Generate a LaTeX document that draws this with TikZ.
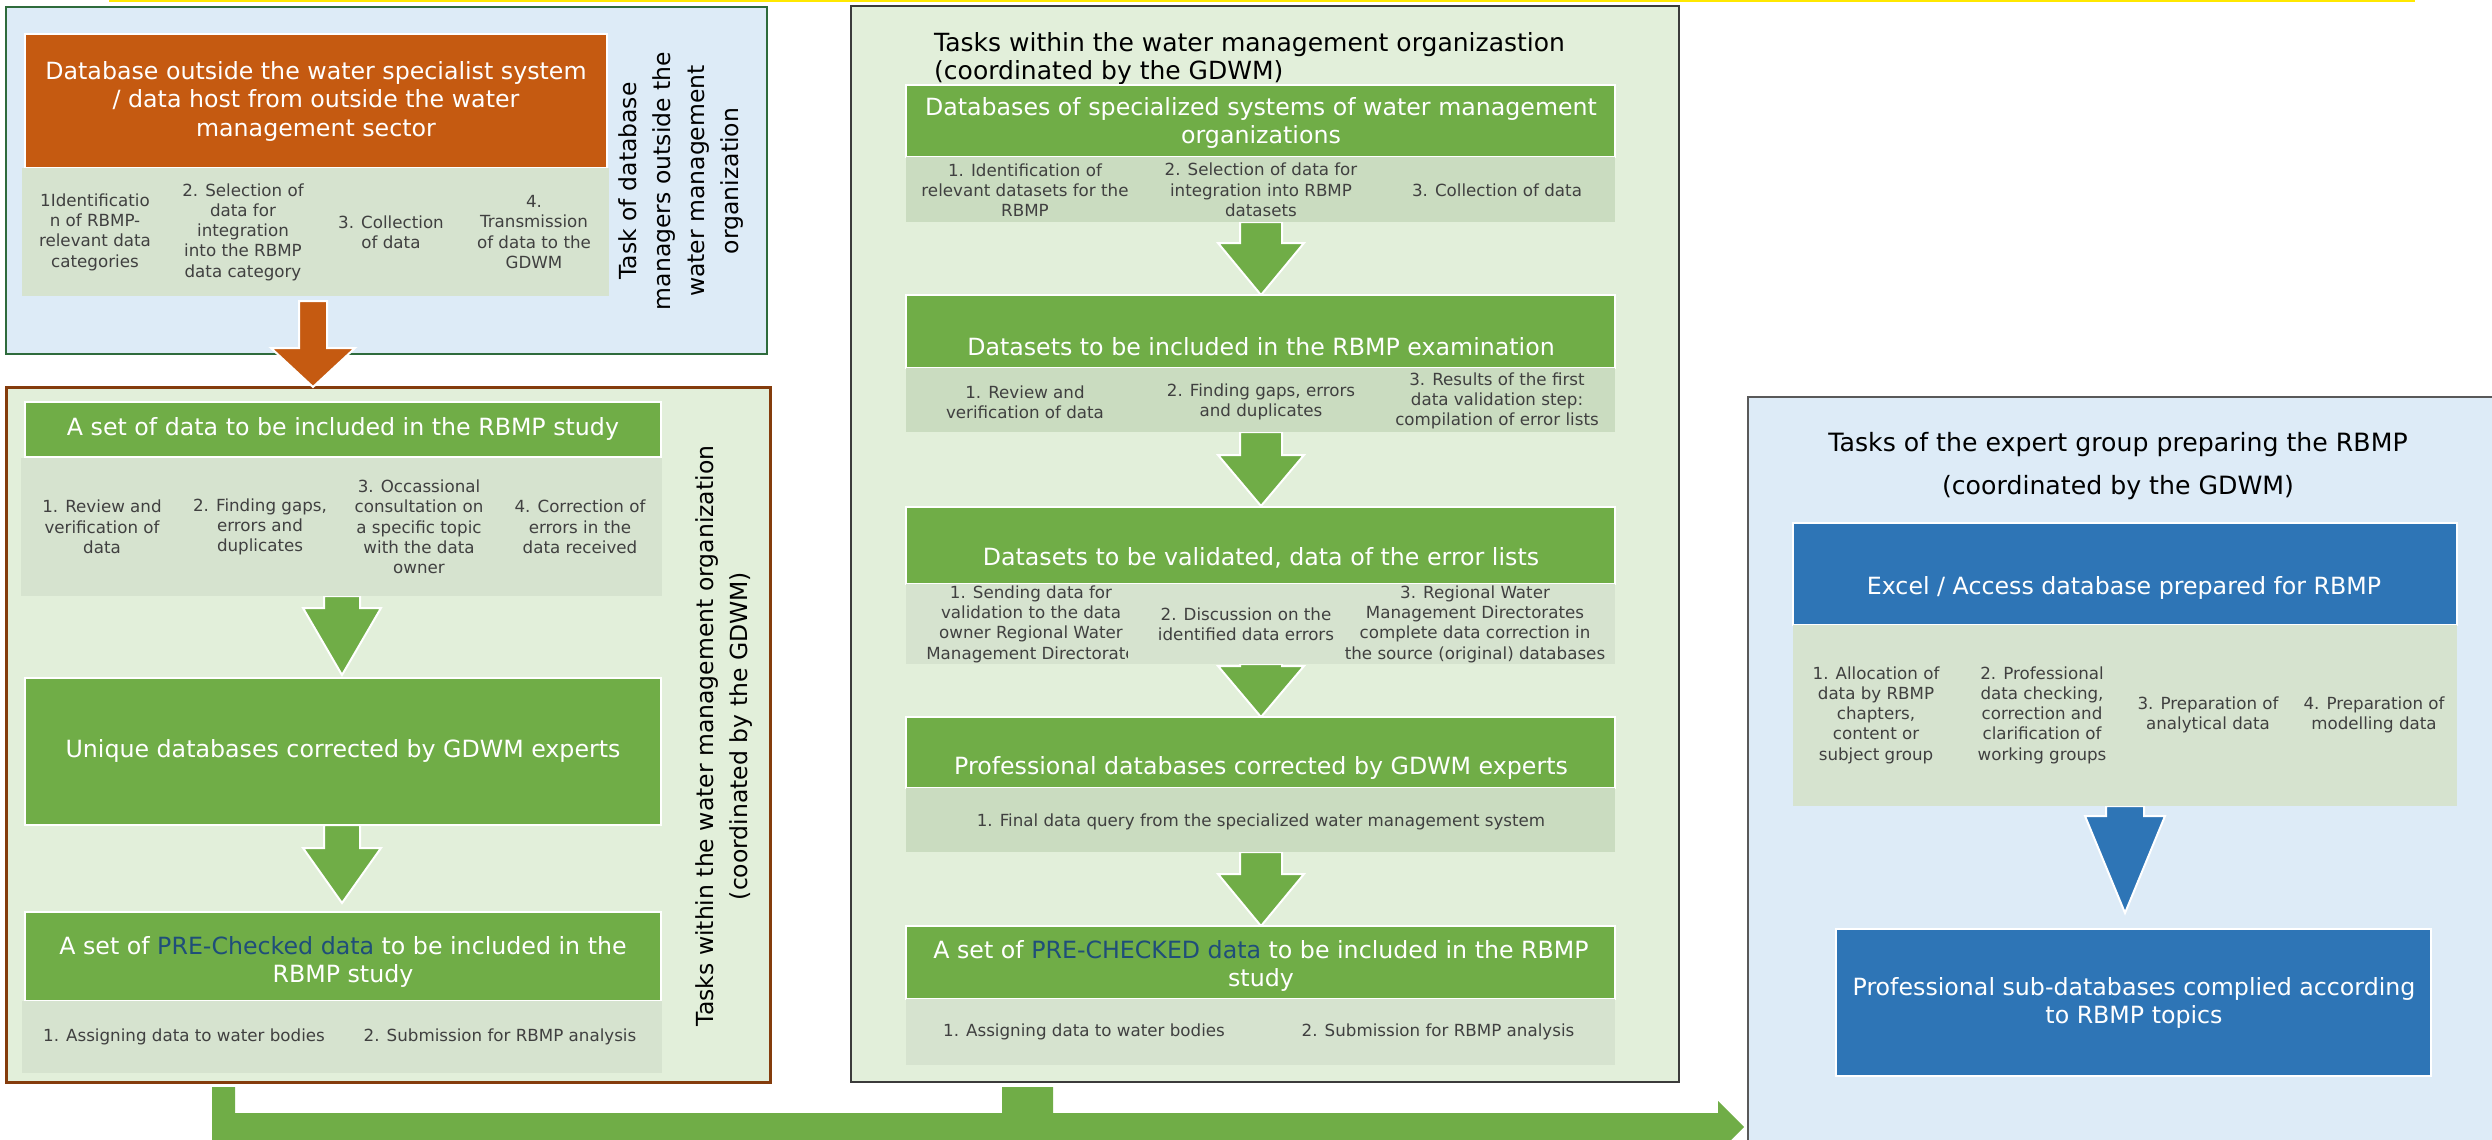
\documentclass[tikz,border=0pt]{standalone}
\usepackage{fontspec}
\setmainfont{DejaVu Sans}
\usetikzlibrary{calc}
\definecolor{lblue}{HTML}{DDEBF7}
\definecolor{lgreen}{HTML}{E2EFDA}
\definecolor{ggreen}{HTML}{70AD47}
\definecolor{orng}{HTML}{C55A11}
\definecolor{bblue}{HTML}{2E75B6}
\definecolor{cellA}{HTML}{D6E3CF}
\definecolor{cellB}{HTML}{CADCC0}
\definecolor{dkgreen}{HTML}{2E6B3C}
\definecolor{brwn}{HTML}{843C0C}
\definecolor{dgray}{HTML}{3B3B3B}
\definecolor{mgray}{HTML}{595959}
\definecolor{ctext}{HTML}{404040}
\definecolor{dblue}{HTML}{1F4E79}
\definecolor{yel}{HTML}{FFE800}
\pgfdeclarelayer{back}\pgfdeclarelayer{mid}\pgfsetlayers{back,mid,main}
\newcommand\fhead{\fontsize{23.7pt}{28.5pt}\selectfont}
\newcommand\fcell{\fontsize{16.7pt}{20.3pt}\selectfont}
\newcommand\ftitle{\fontsize{25pt}{28pt}\selectfont}
\newcommand\ftitleB{\fontsize{25.2pt}{43pt}\selectfont}
\newcommand\frot{\fontsize{23.5pt}{34pt}\selectfont}
\newcommand\bx[6]{\node[#1, minimum width={(#5-#3)*1pt}, minimum height={(#6-#4)*1pt}] (#2) at ({(#3+#5)/2},{(#4+#6)/2}) {};}
% style, from, to, x, shaft half, head half, head length, start gap, end gap
\newcommand\fatarrow[9]{%
  \path[#1] let \p1=(#2.south), \p2=(#3.north) in
    ({(#4-#5)*1pt},{\y1-#8*1pt}) -- ({(#4+#5)*1pt},{\y1-#8*1pt})
    -- ({(#4+#5)*1pt},{\y2+(#9+#7)*1pt}) -- ({(#4+#6)*1pt},{\y2+(#9+#7)*1pt})
    -- ({#4*1pt},{\y2+#9*1pt})
    -- ({(#4-#6)*1pt},{\y2+(#9+#7)*1pt}) -- ({(#4-#5)*1pt},{\y2+(#9+#7)*1pt}) -- cycle;}
\tikzset{
  bxs/.style={rectangle, inner sep=0pt, outer sep=0pt},
  panelA/.style={bxs, fill=lblue, draw=dkgreen, line width=2.5pt},
  panelB/.style={bxs, fill=lgreen, draw=brwn, line width=3pt},
  panelC/.style={bxs, fill=lgreen, draw=dgray, line width=2pt},
  panelD/.style={bxs, fill=lblue, draw=mgray, line width=2pt},
  hdrO/.style={bxs, fill=orng, draw=white, line width=2pt},
  hdrG/.style={bxs, fill=ggreen, draw=white, line width=2.5pt},
  hdrB/.style={bxs, fill=bblue, draw=white, line width=2.5pt},
  cellL/.style={bxs, fill=cellA},
  cellD/.style={bxs, fill=cellB},
  htxt/.style={inner sep=0pt, align=center, text=white, font=\fhead},
  ctxt/.style={inner sep=0pt, align=center, text=ctext, font=\fcell},
  ttxt/.style={inner sep=0pt, text=black, font=\ftitle},
  rtxt/.style={inner sep=0pt, align=center, text=black, font=\frot, rotate=90},
  arrO/.style={fill=orng, draw=white, line width=2pt},
  arrG/.style={fill=ggreen, draw=white, line width=2pt},
  arrB/.style={fill=bblue, draw=white, line width=2pt},
  yline/.style={draw=yel, line width=3pt}
}
\begin{document}
\begin{tikzpicture}[x=1pt,y=-1pt]
\useasboundingbox (0,0) rectangle (2492,1140);
\begin{pgfonlayer}{back}
\bx{panelA}{box1}{6}{7}{767}{354}
\bx{panelB}{box2}{6}{387}{770}{1082}
\bx{panelC}{box3}{851}{6}{1679}{1082}
\bx{panelD}{box4}{1748}{397}{2530}{1170}
\draw[yline] (109,1) -- (2415,1);
\end{pgfonlayer}

% ---------- Box 1 ----------
\bx{hdrO}{h1}{25}{34}{607}{168}
\node[htxt] (h1t) at (316,101) {Database outside the water specialist system\\/ data host from outside the water\\management sector};
\bx{cellL}{c11}{22}{168}{170}{296}
\node[ctxt] (c11t) at (95,232) {1Identificatio\\n of RBMP-\\relevant data\\categories};
\bx{cellL}{c12}{170}{168}{317}{296}
\node[ctxt] (c12t) at (243,232) {2. Selection of\\data for\\integration\\into the RBMP\\data category};
\bx{cellL}{c13}{317}{168}{464}{296}
\node[ctxt] (c13t) at (391,232) {3. Collection\\of data};
\bx{cellL}{c14}{464}{168}{609}{296}
\node[ctxt] (c14t) at (534,232) {4.\\Transmission\\of data to the\\GDWM};
\node[rtxt] (lab1) at (681,181) {Task of database\\managers outside the\\water management\\organization};

% ---------- Box 2 ----------
\bx{hdrG}{h2}{25}{402}{661}{457}
\node[htxt] (h2t) at (343,429) {A set of data to be included in the RBMP study};
\bx{cellL}{c21}{21}{458}{184}{596}
\node[ctxt] (c21t) at (102,527) {1. Review and\\verification of\\data};
\bx{cellL}{c22}{184}{458}{342}{596}
\node[ctxt] (c22t) at (260,527) {2. Finding gaps,\\errors and\\duplicates};
\bx{cellL}{c23}{342}{458}{500}{596}
\node[ctxt] (c23t) at (419,527) {3. Occassional\\consultation on\\a specific topic\\with the data\\owner};
\bx{cellL}{c24}{500}{458}{662}{596}
\node[ctxt] (c24t) at (580,527) {4. Correction of\\errors in the\\data received};
\bx{hdrG}{h3}{25}{678}{661}{825}
\node[htxt] (h3t) at (343,751) {Unique databases corrected by GDWM experts};
\bx{hdrG}{h4}{25}{912}{661}{1001}
\node[htxt] (h4t) at (343,962) {A set of \textcolor{dblue}{PRE-Checked data} to be included in the\\RBMP study};
\bx{cellL}{c41}{22}{1001}{342}{1073}
\node[ctxt] (c41t) at (184,1037) {1. Assigning data to water bodies};
\bx{cellL}{c42}{342}{1001}{662}{1073}
\node[ctxt] (c42t) at (500,1037) {2. Submission for RBMP analysis};
\node[rtxt] (lab2) at (724,736) {Tasks within the water management organization\\(coordinated by the GDWM)};

% ---------- Box 3 ----------
\node[ttxt, anchor=west, align=left] (t3) at (934,59) {Tasks within the water management organizastion\\(coordinated by the GDWM)};
\bx{hdrG}{hm1}{906}{85}{1615}{157}
\node[htxt] (hm1t) at (1261,123) {Databases of specialized systems of water management\\organizations};
\bx{cellD}{cm11}{906}{157}{1144}{222}
\node[ctxt] (cm11t) at (1025,190) {1. Identification of\\relevant datasets for the\\RBMP};
\bx{cellD}{cm12}{1144}{157}{1379}{222}
\node[ctxt] (cm12t) at (1261,190) {2. Selection of data for\\integration into RBMP\\datasets};
\bx{cellD}{cm13}{1379}{157}{1615}{222}
\node[ctxt] (cm13t) at (1497,190) {3. Collection of data};
\bx{hdrG}{hm2}{906}{295}{1615}{368}
\node[htxt] (hm2t) at (1261,347) {Datasets to be included in the RBMP examination};
\bx{cellD}{cm21}{906}{368}{1144}{432}
\node[ctxt] (cm21t) at (1025,402) {1. Review and\\verification of data};
\bx{cellD}{cm22}{1144}{368}{1379}{432}
\node[ctxt] (cm22t) at (1261,402) {2. Finding gaps, errors\\and duplicates};
\bx{cellD}{cm23}{1379}{368}{1615}{432}
\node[ctxt] (cm23t) at (1497,401) {3. Results of the first\\data validation step:\\compilation of error lists};
\bx{hdrG}{hm3}{906}{507}{1615}{584}
\node[htxt] (hm3t) at (1261,558) {Datasets to be validated, data of the error lists};
\bx{cellL}{cm31}{906}{584}{1128}{664}
\node[ctxt] (cm31t) at (1031,624) {1. Sending data for\\validation to the data\\owner Regional Water\\Management Directorate};
\bx{cellL}{cm32}{1128}{584}{1335}{664}
\node[ctxt] (cm32t) at (1246,624) {2. Discussion on the\\identified data errors};
\bx{cellL}{cm33}{1335}{584}{1615}{664}
\node[ctxt] (cm33t) at (1475,624) {3. Regional Water\\Management Directorates\\complete data correction in\\the source (original) databases};
\bx{hdrG}{hm4}{906}{717}{1615}{788}
\node[htxt] (hm4t) at (1261,768) {Professional databases corrected by GDWM experts};
\bx{cellD}{cm41}{906}{788}{1615}{852}
\node[ctxt] (cm41t) at (1261,822) {1. Final data query from the specialized water management system};
\bx{hdrG}{hm5}{906}{926}{1615}{999}
\node[htxt] (hm5t) at (1261,966) {A set of \textcolor{dblue}{PRE-CHECKED data} to be included in the RBMP\\study};
\bx{cellL}{cm51}{906}{999}{1261}{1065}
\node[ctxt] (cm51t) at (1084,1032) {1. Assigning data to water bodies};
\bx{cellL}{cm52}{1261}{999}{1615}{1065}
\node[ctxt] (cm52t) at (1438,1032) {2. Submission for RBMP analysis};

% ---------- Box 4 ----------
\node[ttxt, font=\ftitleB, align=center] (t4) at (2118,466) {Tasks of the expert group preparing the RBMP\\(coordinated by the GDWM)};
\bx{hdrB}{hb1}{1793}{523}{2457}{625}
\node[htxt] (hb1t) at (2124,588) {Excel / Access database prepared for RBMP};
\bx{cellL}{cb1}{1793}{625}{1959}{806}
\node[ctxt] (cb1t) at (1876,715) {1. Allocation of\\data by RBMP\\chapters,\\content or\\subject group};
\bx{cellL}{cb2}{1959}{625}{2125}{806}
\node[ctxt] (cb2t) at (2042,715) {2. Professional\\data checking,\\correction and\\clarification of\\working groups};
\bx{cellL}{cb3}{2125}{625}{2292}{806}
\node[ctxt] (cb3t) at (2208,715) {3. Preparation of\\analytical data};
\bx{cellL}{cb4}{2292}{625}{2457}{806}
\node[ctxt] (cb4t) at (2374,715) {4. Preparation of\\modelling data};
\bx{hdrB}{hb2}{1836}{929}{2431}{1076}
\node[htxt] (hb2t) at (2134,1003) {Professional sub-databases complied according\\to RBMP topics};

% ---------- Arrows ----------
\begin{pgfonlayer}{mid}
\fatarrow{arrO}{c12}{box2}{313}{14}{42}{39}{5}{0}
\fatarrow{arrG}{c22}{h3}{342}{18}{39}{67}{0}{3}
\fatarrow{arrG}{h3}{h4}{342}{18}{39}{55}{0}{9}
\fatarrow{arrG}{cm12}{hm2}{1261}{21}{43}{52}{0}{0}
\fatarrow{arrG}{cm22}{hm3}{1261}{21}{43}{51}{0}{1}
\fatarrow{arrG}{cm32}{hm4}{1261}{21}{43}{51}{0}{0}
\fatarrow{arrG}{cm41}{hm5}{1261}{21}{43}{52}{0}{0}
\fatarrow{arrB}{cb2}{hb2}{2125}{19}{40}{97}{0}{16}
\path[fill=ggreen] let \p1=(box2.south), \p3=(box3.south), \p2=(box4.west) in
  (212pt,{\y1-5pt}) -- (235pt,{\y1-5pt}) -- (235pt,-1113pt) -- (1002pt,-1113pt)
  -- (1002pt,{\y3-5pt}) -- (1053pt,{\y3-5pt}) -- (1053pt,-1113pt)
  -- ({\x2-30pt},-1113pt) -- ({\x2-30pt},-1101pt) -- ({\x2-4pt},-1127pt)
  -- ({\x2-30pt},-1153pt) -- ({\x2-30pt},-1141pt) -- (212pt,-1141pt) -- cycle;
\end{pgfonlayer}
\end{tikzpicture}
\end{document}
